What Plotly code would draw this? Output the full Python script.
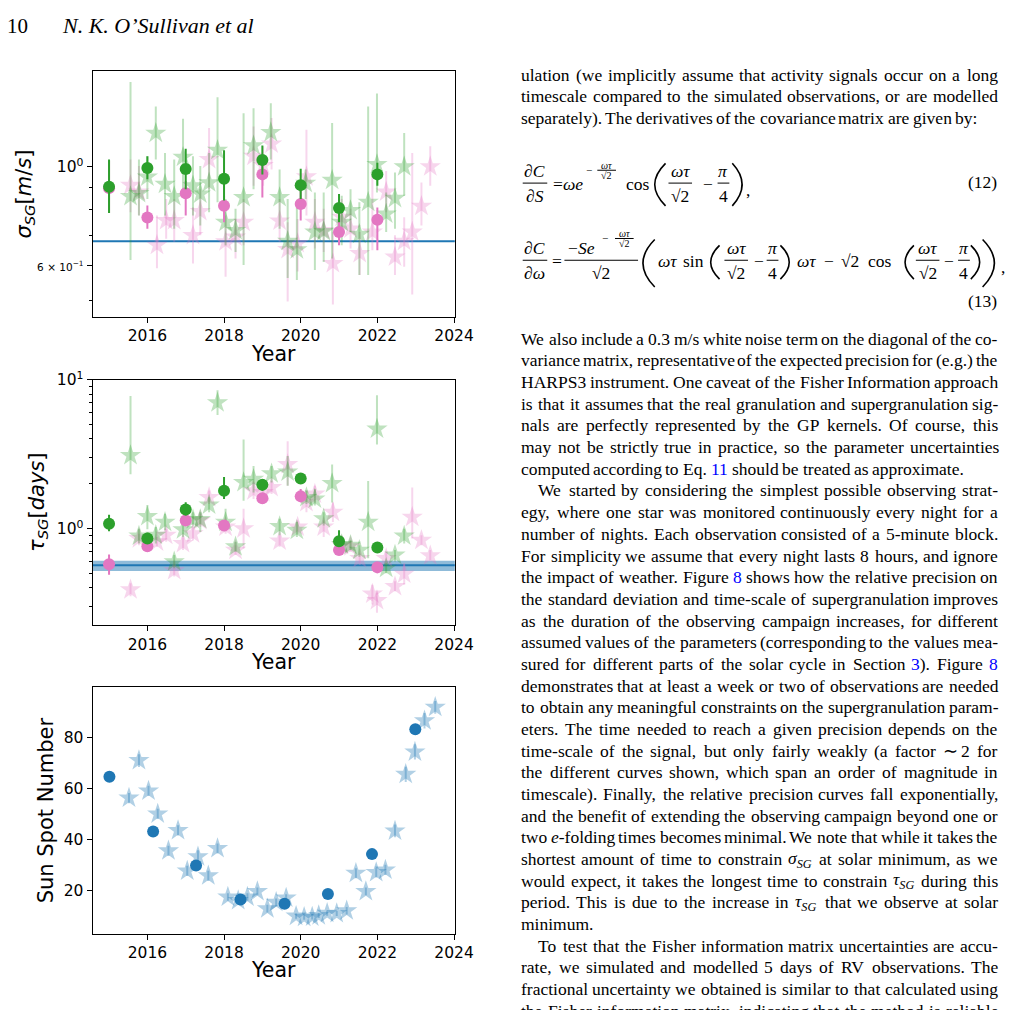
import re
import plotly.graph_objects as go

W, H = 1034, 1010
SERIF = "Liberation Serif"
SANS = "DejaVu Sans"

GREEN, PINK, BLUE = "#2ca02c", "#e377c2", "#1f77b4"
GREEN_A = "rgba(44,160,44,0.3)"
PINK_A = "rgba(227,119,194,0.3)"
BLUE_A = "rgba(31,119,180,0.35)"

# ---------------- data ----------------
years = [2015, 2016, 2017, 2018, 2019, 2020, 2021, 2022]

# panel 1 : sigma_SG [m/s]
sig_green = [0.901, 0.993, 0.988, 0.939, 1.035, 0.909, 0.808, 0.961]
sig_green_hi = [1.038, 1.056, 1.097, 1.089, 1.116, 0.990, 0.868, 1.021]
sig_green_lo = [0.787, 0.937, 0.890, 0.839, 0.961, 0.846, 0.750, 0.906]
sig_pink = [0.895, 0.769, 0.872, 0.817, 0.961, 0.824, 0.713, 0.760]
sig_pink_hi = [1.030, 0.818, 0.929, 0.860, 1.021, 0.883, 0.757, 0.810]
sig_pink_lo = [0.787, 0.725, 0.777, 0.750, 0.853, 0.757, 0.666, 0.649]

sig_gs_t = [2015.56, 2015.78, 2016.00, 2016.22, 2016.46, 2016.70, 2016.93, 2017.19, 2017.38, 2017.61,
            2017.83, 2018.04, 2018.30, 2018.51, 2018.77, 2019.22, 2019.45, 2019.66, 2019.90, 2020.13,
            2020.37, 2020.60, 2020.82, 2021.07, 2021.30, 2021.53, 2021.76, 2021.99, 2022.23, 2022.46,
            2022.70]
sig_gs = [0.857, 0.871, 0.948, 1.190, 0.913, 0.857, 1.051, 0.906, 0.868, 0.921, 1.089, 0.750, 0.719,
          0.853, 1.115, 1.194, 0.853, 0.680, 0.651, 0.918, 0.713, 0.715, 0.932, 0.750, 0.797, 0.705,
          0.832, 1.012, 0.783, 0.849, 1.000]
sig_gs_hi = [1.551, 1.038, 1.056, 1.365, 1.074, 1.038, 1.281, 1.056, 1.003, 1.074, 1.432, 0.846, 0.804,
             1.319, 1.353, 1.388, 0.986, 0.846, 0.832, 0.986, 0.875, 0.875, 1.253, 0.860, 0.890, 0.832,
             1.365, 1.461, 0.875, 0.970, 1.190]
sig_gs_lo = [0.617, 0.777, 0.846, 1.038, 0.777, 0.725, 0.875, 0.777, 0.738, 0.790, 0.832, 0.666, 0.643,
             0.601, 0.890, 1.038, 0.725, 0.562, 0.556, 0.846, 0.586, 0.611, 0.622, 0.666, 0.713, 0.571,
             0.571, 0.875, 0.713, 0.725, 0.860]

sig_ps_t = [2015.56, 2015.78, 2016.25, 2016.49, 2016.70, 2017.19, 2017.38, 2017.61, 2018.04, 2018.30,
            2018.51, 2018.77, 2019.02, 2019.24, 2019.45, 2019.66, 2019.92, 2020.15, 2020.37, 2020.60,
            2020.84, 2021.07, 2021.30, 2021.54, 2021.87, 2022.23, 2022.46, 2022.70, 2022.91, 2023.15,
            2023.38]
sig_ps = [0.909, 0.878, 0.666, 0.757, 0.757, 0.701, 0.793, 1.038, 0.678, 0.695, 0.750, 1.056, 1.007,
          1.125, 0.755, 0.652, 0.672, 0.950, 0.750, 0.719, 0.606, 0.770, 0.725, 0.638, 0.713, 0.878,
          0.627, 0.680, 0.713, 0.815, 1.000]
sig_ps_hi = [1.038, 1.003, 0.777, 0.846, 0.846, 0.811, 0.890, 1.221, 0.777, 0.763, 0.846, 1.232, 1.112,
             1.286, 0.846, 0.750, 0.763, 1.211, 0.846, 0.804, 0.713, 0.846, 0.804, 0.713, 0.961, 0.978,
             0.701, 0.770, 1.074, 0.921, 1.112]
sig_ps_lo = [0.790, 0.777, 0.591, 0.689, 0.678, 0.606, 0.701, 0.890, 0.566, 0.622, 0.666, 0.906, 0.906,
             0.986, 0.678, 0.498, 0.581, 0.777, 0.655, 0.643, 0.490, 0.701, 0.655, 0.571, 0.649, 0.790,
             0.571, 0.596, 0.516, 0.738, 0.906]
sig_line = 0.68

# panel 2 : tau_SG [days]
tau_green = [1.079, 0.858, 1.344, 1.797, 1.969, 2.169, 0.824, 0.748]
tau_green_hi = [1.239, 0.926, 1.503, 2.225, 2.147, 2.317, 0.975, 0.795]
tau_green_lo = [0.960, 0.795, 1.226, 1.581, 1.797, 2.020, 0.756, 0.700]
tau_pink = [0.577, 0.763, 1.136, 1.052, 1.598, 1.647, 0.718, 0.551]
tau_pink_hi = [0.672, 0.816, 1.226, 1.136, 1.707, 1.843, 0.775, 0.586]
tau_pink_lo = [0.490, 0.718, 1.052, 0.975, 1.465, 1.503, 0.665, 0.503]

tau_gs_t = [2015.56, 2015.78, 2016.00, 2016.22, 2016.46, 2016.70, 2016.93, 2017.19, 2017.38, 2017.61,
            2017.83, 2018.04, 2018.30, 2018.51, 2018.77, 2019.24, 2019.45, 2019.66, 2019.90, 2020.15,
            2020.37, 2020.60, 2020.82, 2021.07, 2021.30, 2021.53, 2021.76, 2021.99, 2022.23, 2022.46,
            2022.70]
tau_gs = [3.10, 0.894, 1.207, 0.903, 1.107, 0.601, 0.985, 1.153, 1.153, 1.443, 7.00, 1.107, 0.756,
          2.04, 2.15, 2.34, 1.036, 2.40, 0.975, 1.62, 1.58, 1.165, 2.01, 0.783, 0.775, 0.718, 1.107,
          4.66, 0.543, 0.665, 0.894]
tau_gs_hi = [7.77, 1.000, 1.443, 1.026, 1.258, 0.665, 1.079, 1.290, 1.290, 1.622, 8.50, 1.358, 0.816,
             3.96, 2.63, 2.63, 1.165, 3.07, 1.107, 1.80, 1.84, 1.29, 2.70, 0.837, 0.837, 0.775, 2.09,
             7.87, 0.586, 0.718, 1.000]
tau_gs_lo = [2.317, 0.795, 0.990, 0.795, 0.975, 0.543, 0.880, 1.052, 0.950, 1.290, 5.80, 0.975, 0.700,
             1.54, 1.75, 2.04, 0.903, 1.94, 0.880, 1.465, 1.43, 1.052, 1.50, 0.718, 0.718, 0.649, 0.632,
             3.67, 0.503, 0.601, 0.795]

tau_ps_t = [2015.56, 2015.78, 2016.25, 2016.49, 2016.70, 2016.93, 2017.19, 2017.38, 2017.61, 2018.04,
            2018.30, 2018.51, 2018.77, 2019.02, 2019.24, 2019.45, 2019.66, 2019.92, 2020.15, 2020.37,
            2020.60, 2020.84, 2021.07, 2021.30, 2021.54, 2021.87, 2021.99, 2022.23, 2022.46, 2022.70,
            2022.91, 2023.15, 2023.38]
tau_ps = [0.390, 0.858, 0.816, 0.903, 0.524, 0.795, 0.926, 1.136, 1.62, 1.026, 0.718, 1.000, 1.797,
          1.75, 1.89, 0.828, 2.70, 1.026, 1.50, 1.71, 1.026, 1.29, 0.775, 0.756, 0.632, 0.365, 0.330,
          0.632, 0.410, 0.497, 1.195, 0.837, 0.659]
tau_ps_hi = [0.431, 0.926, 0.880, 1.000, 0.571, 0.880, 1.026, 1.258, 1.80, 1.136, 0.775, 1.358, 2.04,
             1.94, 2.09, 0.903, 3.86, 1.136, 1.707, 1.94, 1.136, 1.50, 0.837, 0.816, 0.682, 0.421, 0.371,
             0.700, 0.443, 0.586, 1.89, 0.903, 0.718]
tau_ps_lo = [0.352, 0.775, 0.756, 0.816, 0.478, 0.718, 0.837, 1.026, 1.465, 0.926, 0.665, 0.737, 1.581,
             1.581, 1.707, 0.756, 1.94, 0.926, 1.29, 1.50, 0.880, 1.107, 0.718, 0.700, 0.571, 0.310, 0.273,
             0.571, 0.380, 0.421, 0.858, 0.775, 0.601]
tau_line = 0.568
tau_band = [0.52, 0.61]

# panel 3 : sunspot number
ssn_circ_t = [2015.01, 2016.15, 2017.27, 2018.43, 2019.58, 2020.71, 2021.86, 2022.99]
ssn_circ = [64.5, 43.1, 29.7, 16.4, 14.7, 18.6, 34.2, 83.2]
ssn_star_t = [2015.52, 2015.78, 2016.03, 2016.27, 2016.55, 2016.80, 2017.04, 2017.32, 2017.59, 2017.83,
              2018.10, 2018.37, 2018.61, 2018.87, 2019.13, 2019.36, 2019.62, 2019.88, 2020.09, 2020.30,
              2020.47, 2020.69, 2020.94, 2021.20, 2021.44, 2021.70, 2021.97, 2022.21, 2022.46, 2022.74,
              2022.98, 2023.23, 2023.51]
ssn_star = [56.2, 70.9, 59.0, 50.0, 35.5, 43.5, 27.6, 33.2, 25.7, 36.4, 17.4, 16.0, 17.4, 19.6, 12.8,
            15.3, 17.0, 9.9, 9.5, 9.6, 10.1, 11.0, 10.9, 12.0, 26.7, 19.6, 27.0, 28.0, 43.3, 65.5, 74.3,
            86.5, 91.8]
ssn_star_err = [2.0, 2.5, 2.0, 2.0, 2.0, 2.0, 2.0, 2.5, 2.0, 2.0, 1.5, 1.5, 1.5, 1.5, 1.5, 1.5, 1.5, 1.0,
                1.0, 1.0, 1.0, 1.0, 1.0, 1.5, 2.0, 1.5, 2.0, 2.0, 2.5, 3.0, 3.0, 3.0, 2.5]

x_ticks = [2016, 2018, 2020, 2022, 2024]

# ---------------- traces ----------------
fig = go.Figure()


def points(t, v, hi, lo, ax, color, ecolor, symbol, size):
    err = None
    if hi is not None:
        err = dict(type="data", symmetric=False,
                   array=[h - a for h, a in zip(hi, v)],
                   arrayminus=[a - l for a, l in zip(v, lo)],
                   color=ecolor, thickness=2, width=0)
    fig.add_trace(go.Scatter(x=t, y=v, mode="markers", xaxis="x" + ax, yaxis="y" + ax,
                             marker=dict(symbol=symbol, size=size, color=color, line=dict(width=0)),
                             error_y=err, showlegend=False, hoverinfo="skip"))


points(sig_ps_t, sig_ps, sig_ps_hi, sig_ps_lo, "", PINK_A, PINK_A, "star", 16)
points(sig_gs_t, sig_gs, sig_gs_hi, sig_gs_lo, "", GREEN_A, GREEN_A, "star", 16)
points(years, sig_pink, sig_pink_hi, sig_pink_lo, "", PINK, PINK, "circle", 12)
points(years, sig_green, sig_green_hi, sig_green_lo, "", GREEN, GREEN, "circle", 12)

points(tau_ps_t, tau_ps, tau_ps_hi, tau_ps_lo, "2", PINK_A, PINK_A, "star", 16)
points(tau_gs_t, tau_gs, tau_gs_hi, tau_gs_lo, "2", GREEN_A, GREEN_A, "star", 16)
points(years, tau_pink, tau_pink_hi, tau_pink_lo, "2", PINK, PINK, "circle", 12)
points(years, tau_green, tau_green_hi, tau_green_lo, "2", GREEN, GREEN, "circle", 12)

points(ssn_star_t, ssn_star, [a + e for a, e in zip(ssn_star, ssn_star_err)],
       [a - e for a, e in zip(ssn_star, ssn_star_err)], "3", BLUE_A, BLUE_A, "star", 16)
points(ssn_circ_t, ssn_circ, None, None, "3", BLUE, BLUE, "circle", 12)

shapes = [
    dict(type="line", xref="x domain", yref="y", x0=0, x1=1, y0=sig_line, y1=sig_line,
         line=dict(color=BLUE, width=2), layer="below"),
    dict(type="rect", xref="x2 domain", yref="y2", x0=0, x1=1, y0=tau_band[0], y1=tau_band[1],
         fillcolor="rgba(31,119,180,0.5)", line=dict(width=0), layer="below"),
    dict(type="line", xref="x2 domain", yref="y2", x0=0, x1=1, y0=tau_line, y1=tau_line,
         line=dict(color=BLUE, width=2), layer="below"),
]

# ---------------- axes ----------------
PX0, PX1 = 94.3, 463.3
common = dict(showline=True, linecolor="black", linewidth=1, mirror=True, ticks="outside",
              ticklen=5, tickwidth=1, tickcolor="black", showgrid=False, zeroline=False,
              tickfont=dict(family=SANS, size=15.5, color="black"))


def xax(anchor):
    return dict(domain=[PX0 / W, PX1 / W], anchor=anchor, range=[2014.57, 2024.02],
                tickvals=x_ticks, ticktext=[str(v) for v in x_ticks], **common)


def ydom(top, bottom):
    return [1 - bottom / H, 1 - top / H]


minor_style = dict(ticks="outside", ticklen=3, tickwidth=1, tickcolor="black", showgrid=False)

layout_axes = dict(
    xaxis=xax("y"), xaxis2=xax("y2"), xaxis3=xax("y3"),
    yaxis=dict(domain=ydom(60.7, 309), anchor="x", type="log", range=[-0.337, 0.215],
               tickvals=[0.6, 1.0],
               ticktext=['<span style="font-size:10.5px">6 × 10<sup>−1</sup></span>', "10<sup>0</sup>"],
               minor=dict(tickvals=[0.5, 0.7, 0.8, 0.9], **minor_style), **common),
    yaxis2=dict(domain=ydom(372.7, 621), anchor="x2", type="log", range=[-0.648, 1.0],
                tickvals=[1, 10], ticktext=["10<sup>0</sup>", "10<sup>1</sup>"],
                minor=dict(tickvals=[0.3, 0.4, 0.5, 0.6, 0.7, 0.8, 0.9, 2, 3, 4, 5, 6, 7, 8, 9],
                           **minor_style), **common),
    yaxis3=dict(domain=ydom(683.3, 932.7), anchor="x3", range=[3.05, 99.8],
                tickvals=[20, 40, 60, 80], **common),
)

# ---------------- text helpers ----------------
ann = []


def put(x, y, s, size=17.5, anchor="center", fam=SERIF, angle=0):
    ann.append(dict(x=x / W, y=1 - y / H, xref="paper", yref="paper", text=s, showarrow=False,
                    xanchor=anchor, yanchor="middle", textangle=angle, borderpad=0, borderwidth=0,
                    font=dict(family=fam, size=size, color="black")))


def hbar(x0, x1, y, w=1.0):
    shapes.append(dict(type="line", xref="paper", yref="paper", x0=x0 / W, x1=x1 / W,
                       y0=1 - y / H, y1=1 - y / H, line=dict(color="black", width=w)))


def frac(xc, yb, num, den, half, size=17.5, up=12, down=13):
    put(xc, yb - up, num, size)
    put(xc, yb + down, den, size)
    hbar(xc - half, xc + half, yb)


def paren(x_in, x_ext, y0, y1, w=1.6):
    ctrl = 2 * x_ext - x_in
    ym = (y0 + y1) / 2
    p = "M %.5f,%.5f Q %.5f,%.5f %.5f,%.5f" % (x_in / W, 1 - y0 / H, ctrl / W, 1 - ym / H,
                                              x_in / W, 1 - y1 / H)
    shapes.append(dict(type="path", xref="paper", yref="paper", path=p,
                       line=dict(color="black", width=w)))


# axis titles
put(25, 185, "<i>σ<sub>SG</sub></i>[<i>m</i>/<i>s</i>]", 21, fam=SANS, angle=-90)
put(38, 497, "<i>τ<sub>SG</sub></i>[<i>days</i>]", 21, fam=SANS, angle=-90)
put(47, 808, "Sun Spot Number", 21, fam=SANS, angle=-90)
for yy in (347, 658, 970):
    put(279, yy, "Year", 20.5, fam=SANS)

# page header
put(7, 15, "10", 21, anchor="left")
put(63, 15, "<i>N. K. O’Sullivan et al</i>", 22, anchor="left")

# ---------------- equations ----------------
# (12)
frac(545, 174, "∂<i>C</i>", "∂<i>S</i>", 12.5)
put(568, 175, "=")
put(584, 175, "<i>ωe</i>")
put(600, 161, "−", 11)
frac(618, 161, "<i>ωτ</i>", "√2", 9.5, size=10, up=5, down=5.5)
put(650, 175, "cos")
paren(678, 667, 154, 197)
frac(693, 174, "<i>ωτ</i>", "√2", 12)
put(721, 175, "−")
frac(737, 174, "<i>π</i>", "4", 6)
paren(746, 756, 154, 197)
put(762, 181, ",")
put(1016, 173, "(12)", anchor="right")

# (13)
frac(545, 252, "∂<i>C</i>", "∂<i>ω</i>", 12.5)
put(567, 253, "=")
put(592, 240, "−<i>Se</i>")
put(616, 230, "−", 11)
frac(636, 230, "<i>ωτ</i>", "√2", 9.5, size=10, up=5, down=5.5)
hbar(575, 650, 252)
put(612, 265, "√2")
paren(667, 655, 231, 279)
put(680, 253, "<i>ωτ</i>")
put(706, 253, "sin")
paren(733, 724, 237, 271)
frac(750, 252, "<i>ωτ</i>", "√2", 12)
put(773, 253, "−")
frac(787, 252, "<i>π</i>", "4", 6)
paren(795, 804, 237, 271)
put(822, 253, "<i>ωτ</i>")
put(845, 253, "−")
put(866, 253, "√2")
put(896, 253, "cos")
paren(931, 922, 237, 271)
frac(945, 252, "<i>ωτ</i>", "√2", 12)
put(967, 253, "−")
frac(982, 252, "<i>π</i>", "4", 6)
paren(989, 998, 237, 271)
paren(1001, 1013, 231, 279)
put(1022, 259, ",")
put(1016, 293, "(13)", anchor="right")

# ---------------- body text (justified word by word) ----------------
SIZE = 17.5
XL, XR = 531.0, 1016.0
TW = {" ": 250, ",": 250, ".": 250, "-": 333, "(": 333, ")": 333, ":": 278, ";": 278, "/": 278,
      "’": 333}
for ch, w in zip("abcdefghijklmnopqrstuvwxyz",
                 [444, 500, 444, 500, 444, 333, 500, 500, 278, 278, 500, 278, 778, 500, 500, 500, 500,
                  333, 389, 278, 500, 500, 722, 500, 500, 444]):
    TW[ch] = w
for ch, w in zip("ABCDEFGHIJKLMNOPQRSTUVWXYZ",
                 [722, 667, 667, 722, 611, 556, 722, 722, 333, 389, 722, 611, 889, 722, 722, 556, 722,
                  667, 556, 611, 722, 722, 944, 722, 722, 611]):
    TW[ch] = w
for ch in "0123456789":
    TW[ch] = 500
SPECIAL = {"{s}": ("<i>σ</i><sub><i>SG</i></sub>", 1400), "{t}": ("<i>τ</i><sub><i>SG</i></sub>", 1300),
           "{e}": ("<i>e</i>", 444), "{~}": ("∼", 600)}


def word(tok):
    html, extra = tok, 0
    for k, (h, ww) in SPECIAL.items():
        n = tok.count(k)
        if n:
            html = html.replace(k, h)
            tok = tok.replace(k, "")
            extra += n * ww
    html = re.sub(r"\[(\w+)\]", r'<span style="color:#0000ff">\1</span>', html)
    plain = tok.replace("[", "").replace("]", "")
    return html, (extra + sum(TW.get(c, 500) for c in plain)) * SIZE / 1000


def paragraph(lines, y0, dy, indent=0, last_justified=False):
    for i, line in enumerate(lines):
        y = y0 + i * dy - 2
        toks = [word(t) for t in line.split(" ")]
        x = XL + (indent if i == 0 else 0)
        total = sum(w for _, w in toks)
        if i < len(lines) - 1 or last_justified:
            gap = (XR - x - total) / max(len(toks) - 1, 1)
        else:
            gap = 0.25 * SIZE
        for h, w in toks:
            put(x, y, h, SIZE, anchor="left")
            x += w + gap


para1 = [
    "ulation (we implicitly assume that activity signals occur on a long",
    "timescale compared to the simulated observations, or are modelled",
    "separately). The derivatives of the covariance matrix are given by:",
]
para2 = [
    "We also include a 0.3 m/s white noise term on the diagonal of the co-",
    "variance matrix, representative of the expected precision for (e.g.) the",
    "HARPS3 instrument. One caveat of the Fisher Information approach",
    "is that it assumes that the real granulation and supergranulation sig-",
    "nals are perfectly represented by the GP kernels. Of course, this",
    "may not be strictly true in practice, so the parameter uncertainties",
    "computed according to Eq. [11] should be treated as approximate.",
]
para3 = [
    "We started by considering the simplest possible observing strat-",
    "egy, where one star was monitored continuously every night for a",
    "number of nights. Each observation consisted of a 5-minute block.",
    "For simplicity we assume that every night lasts 8 hours, and ignore",
    "the impact of weather. Figure [8] shows how the relative precision on",
    "the standard deviation and time-scale of supergranulation improves",
    "as the duration of the observing campaign increases, for different",
    "assumed values of the parameters (corresponding to the values mea-",
    "sured for different parts of the solar cycle in Section [3]). Figure [8]",
    "demonstrates that at least a week or two of observations are needed",
    "to obtain any meaningful constraints on the supergranulation param-",
    "eters. The time needed to reach a given precision depends on the",
    "time-scale of the signal, but only fairly weakly (a factor {~} 2 for",
    "the different curves shown, which span an order of magnitude in",
    "timescale). Finally, the relative precision curves fall exponentially,",
    "and the benefit of extending the observing campaign beyond one or",
    "two {e}-folding times becomes minimal. We note that while it takes the",
    "shortest amount of time to constrain {s} at solar minimum, as we",
    "would expect, it takes the longest time to constrain {t} during this",
    "period. This is due to the increase in {t} that we observe at solar",
    "minimum.",
]
para4 = [
    "To test that the Fisher information matrix uncertainties are accu-",
    "rate, we simulated and modelled 5 days of RV observations. The",
    "fractional uncertainty we obtained is similar to that calculated using",
    "the Fisher information matrix, indicating that the method is reliable",
]

DY = 21.92
Y2 = 333.3
paragraph(para1, 66.7, 21.7)
paragraph(para2, Y2, DY)
paragraph(para3, Y2 + 7 * DY, DY, indent=17)
paragraph(para4, Y2 + 28 * DY, DY, indent=17, last_justified=True)

fig.update_layout(
    width=W, height=H, autosize=False,
    margin=dict(l=0, r=0, t=0, b=0),
    paper_bgcolor="white", plot_bgcolor="white",
    showlegend=False,
    shapes=shapes, annotations=ann,
    **layout_axes,
)

fig.write_html("out.html", config={"displayModeBar": False},
               post_script="document.body.style.margin='0px';document.body.style.overflow='hidden';")
